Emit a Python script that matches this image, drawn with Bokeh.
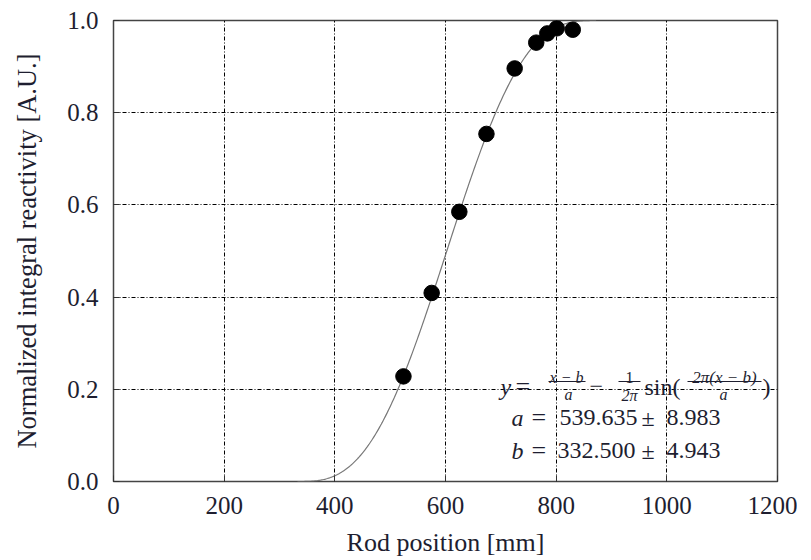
import numpy as np
from bokeh.plotting import figure
from bokeh.models import Label, FixedTicker, NumeralTickFormatter, Range1d
from bokeh.embed import file_html
from bokeh.resources import INLINE

# Measured data
rod_position = [524, 575, 625, 674, 725, 764, 784, 801, 830]
reactivity = [0.228, 0.409, 0.585, 0.754, 0.896, 0.952, 0.972, 0.983, 0.980]

# Fit parameters (from the annotation)
fit_a = 539.635
fit_a_err = 8.983
fit_b = 332.500
fit_b_err = 4.943

x_ticks = [0, 200, 400, 600, 800, 1000, 1200]
y_ticks = [0.0, 0.2, 0.4, 0.6, 0.8, 1.0]

FONT = "Liberation Serif"
TXT = "#1e1e30"

FL, FT, FW, FH = 113, 20, 664, 461
OFFX, OFFY = 1, 1

p = figure(frame_width=FW, frame_height=FH, output_backend="svg", toolbar_location=None,
           x_range=Range1d(0, 1200), y_range=Range1d(0, 1.0),
           min_border_left=FL, min_border_top=FT,
           min_border_right=20, min_border_bottom=0)
p.background_fill_color = "white"
p.border_fill_color = "white"
p.outline_line_color = "#444444"
p.outline_line_width = 1.5

xa = p.xaxis[0]
ya = p.yaxis[0]
for ax in (xa, ya):
    ax.axis_line_color = None
    ax.major_tick_in = 6
    ax.major_tick_out = 0
    ax.minor_tick_line_color = None
    ax.major_tick_line_color = "#333333"
    ax.major_label_text_font = FONT
    ax.major_label_text_font_size = "25px"
    ax.major_label_text_color = TXT
    ax.axis_label_text_font = FONT
    ax.axis_label_text_font_style = "normal"
    ax.axis_label_text_color = TXT

xa.ticker = FixedTicker(ticks=x_ticks)
xa.major_label_standoff = 15
xa.axis_label = "Rod position [mm]"
xa.axis_label_text_font_size = "26px"
xa.axis_label_standoff = 11

ya.ticker = FixedTicker(ticks=y_ticks)
ya.formatter = NumeralTickFormatter(format="0.0")
ya.major_label_standoff = 15
ya.axis_label = "Normalized integral reactivity [A.U.]"
ya.axis_label_text_font_size = "26.5px"
ya.axis_label_standoff = 22

for g in (p.xgrid[0], p.ygrid[0]):
    g.grid_line_color = "black"
    g.grid_line_width = 1
    g.grid_line_dash = "4 2 1 2"

# Fit curve
xf = np.linspace(fit_b, fit_b + fit_a, 300)
u = (xf - fit_b) / fit_a
yf = u - np.sin(2 * np.pi * u) / (2 * np.pi)
p.line(xf, yf, line_color="#777777", line_width=1.2)

p.scatter(rod_position, reactivity, size=15.5, fill_color="black", line_color="black")

# Annotation helpers: reference pixel position -> data coordinates
def dx(px):
    return (px - OFFX - FL) * 1200 / FW

def dy(py):
    return 1.0 - (py - OFFY - FT) / FH

def lab(text, px, py, size=24, style="normal", align="left"):
    p.add_layout(Label(x=dx(px), y=dy(py), text=text, text_font=FONT,
                       text_font_size=f"{size}px", text_font_style=style,
                       text_color=TXT, text_align=align,
                       text_baseline="alphabetic"))

def bar(px0, px1, py):
    p.segment(x0=[dx(px0)], y0=[dy(py)], x1=[dx(px1)], y1=[dy(py)],
              line_color=TXT, line_width=1)

# y = (x-b)/a - 1/(2pi) sin(2pi(x-b)/a)
lab("y", 501, 387, style="italic")
lab("=", 516, 387, size=26)
lab("x − b", 567, 378, size=16, style="italic", align="center")
bar(549, 586, 382)
lab("a", 569, 395, size=16, style="italic", align="center")
lab("−", 590, 387)
lab("1", 630, 378, size=16, align="center")
bar(619, 641, 382)
lab("2π", 630, 396, size=16, style="italic", align="center")
lab("sin(", 645, 387)
lab("2π(x − b)", 725, 378, size=17, style="italic", align="center")
bar(688, 762, 382)
lab("a", 724, 395, size=16, style="italic", align="center")
lab(")", 763, 387)

# parameter lines
lab("a", 512, 418, style="italic")
lab("=", 532, 418, size=26)
lab(f"{fit_a:.3f}", 560, 418)
lab("±", 642, 418)
lab(f"{fit_a_err:.3f}", 667, 418)

lab("b", 512, 451, style="italic")
lab("=", 532, 451, size=26)
lab(f"{fit_b:.3f}", 558, 451)
lab("±", 642, 451)
lab(f"{fit_b_err:.3f}", 667, 451)

open("out.html", "w").write(file_html(p, INLINE))
